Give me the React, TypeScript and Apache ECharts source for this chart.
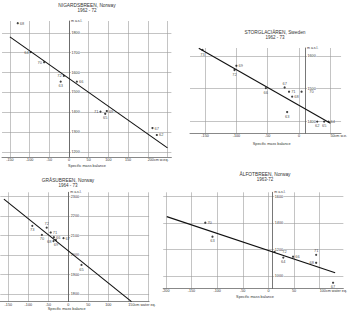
import React, { useEffect, useRef } from "react";
import * as echarts from "echarts";

// ---------- Nigardsbreen 1962-72 ----------
const nigYears = ["68", "64", "70", "72", "63", "66", "71", "65", "69", "67", "62"];
const nigBalance = [-130, -97, -63, -13, -21, 20, 80, 92, 96, 212, 223];
const nigEla = [1849, 1703, 1652, 1583, 1554, 1554, 1403, 1392, 1406, 1320, 1285];
const nigLabelPos = ["right", "left", "left", "left", "bottom", "right", "left", "bottom", "right", "right", "right"];
const nigLineX = [-150, 250];
const nigLineY = [1780, 1220];
const nigXTicks = [-150, -100, -50, 0, 50, 100, 150, 200, 250];
const nigXLabels = [-150, -100, -50, 0, 50, 100, 150, 200];
const nigYTicks = [1200, 1300, 1400, 1500, 1600, 1700, 1800];

// ---------- Storglaciären 1962-73 ----------
const stoYears = ["73", "69", "72", "66", "67", "71", "68", "70", "63", "62", "65", "64"];
const stoBalance = [-154, -100, -103, -53, -23, -16, -11, 4, -19, 29, 40, 47];
const stoEla = [1618, 1570, 1557, 1502, 1504, 1491, 1476, 1491, 1429, 1400, 1400, 1400];
const stoLabelPos = ["bottom", "right", "bottom", "bottom", "top", "right", "right", "right", "bottom", "bottom", "bottom", "right"];
const stoLineX = [-160, 50];
const stoLineY = [1623, 1395];
const stoXTicks = [-150, -100, -50, 0, 50];
const stoXLabels = [-150, -100, -50, 0, 50];
const stoYTicks = [1400, 1500, 1600];

// ---------- Gråsubreen 1964-73 ----------
const graYears = ["73", "72", "70", "71", "66", "69", "68", "67", "65"];
const graBalance = [-90, -54, -66, -44, -36, -31, -37, -12, 33];
const graEla = [2150, 2141, 2104, 2116, 2092, 2078, 2072, 2087, 1950];
const graLabelPos = ["bottom", "top", "bottom", "right", "right", "bottom", "left", "right", "bottom"];
const graLineX = [-161, 158];
const graLineY = [2287, 1762];
const graXTicks = [-150, -100, -50, 0, 50, 100, 150, 200];
const graXLabels = [-150, -100, -50, 0, 50, 100, 150];
const graYTicks = [1800, 1900, 2000, 2100, 2200, 2300];

// ---------- Ålfotbreen 1963-72 ----------
const alfYears = ["70", "63", "72", "64", "66", "71", "68", "67"];
const alfBalance = [-123, -109, 12, 29, 48, 93, 93, 126];
const alfEla = [1403, 1297, 1182, 1139, 1146, 1160, 1100, 949];
const alfLabelPos = ["right", "bottom", "right", "bottom", "right", "top", "left", "bottom"];
const alfLineX = [-198, 130];
const alfLineY = [1449, 1025];
const alfXTicks = [-200, -150, -100, -50, 0, 50, 100];
const alfXLabels = [-200, -150, -100, -50, 0, 50, 100];
const alfYTicks = [1000, 1200, 1400, 1600];

const FONT = "Liberation Sans";
const GRID_C = "#9c9c9c";
const AXIS_C = "#555";
const TXT_C = "#333";

// pixel placement of each panel (grid box) and where the zero-balance axis sits
const layout = [
  { left: 2, top: 21, width: 169.4, height: 136, xMin: -170, xMax: 260, yMin: 1174, yMax: 1860, zeroX: 69 },
  { left: 190, top: 48, width: 159.5, height: 85.1, xMin: -174, xMax: 67, yMin: 1365, yMax: 1624, zeroX: 305 },
  { left: 0.3, top: 192.3, width: 148.8, height: 109.3, xMin: -170, xMax: 202, yMin: 1762, yMax: 2322, zeroX: 68.3 },
  { left: 163.2, top: 192.3, width: 186.7, height: 96, xMin: -205, xMax: 146, yMin: 907, yMax: 1633, zeroX: 272.3 },
];

const panels = [
  { years: nigYears, bal: nigBalance, ela: nigEla, pos: nigLabelPos, lx: nigLineX, ly: nigLineY, xt: nigXTicks, xl: nigXLabels, yt: nigYTicks, unit: "cm w.eq." },
  { years: stoYears, bal: stoBalance, ela: stoEla, pos: stoLabelPos, lx: stoLineX, ly: stoLineY, xt: stoXTicks, xl: stoXLabels, yt: stoYTicks, unit: "cm w.e." },
  { years: graYears, bal: graBalance, ela: graEla, pos: graLabelPos, lx: graLineX, ly: graLineY, xt: graXTicks, xl: graXLabels, yt: graYTicks, unit: "cm water eq." },
  { years: alfYears, bal: alfBalance, ela: alfEla, pos: alfLabelPos, lx: alfLineX, ly: alfLineY, xt: alfXTicks, xl: alfXLabels, yt: alfYTicks, unit: "cm water eq." },
];

const titles = [
  { t: "NIGARDSBREEN, Norway", s: "1962 - 72", x: 87, y: 5 },
  { t: "STORGLACIÄREN, Sweden", s: "1962 - 73", x: 275, y: 32 },
  { t: "GRÅSUBREEN, Norway", s: "1964 - 73", x: 68, y: 180 },
  { t: "ÅLFOTBREEN, Norway", s: "1963-72", x: 265, y: 174 },
];

const axisNames = [
  { x: 87, y: 165.7 },
  { x: 271.7, y: 144 },
  { x: 66.7, y: 308.6 },
  { x: 255, y: 296.5 },
];

export default function App() {
  const ref = useRef<HTMLDivElement>(null);
  useEffect(() => {
    document.body.style.margin = "0";
    if (!ref.current) return;
    const chart = echarts.init(ref.current, undefined, { renderer: "svg" });

    const grid = layout.map((g) => ({ left: g.left, top: g.top, width: g.width, height: g.height, containLabel: false }));
    const xAxis = panels.map((p, i) => ({
      type: "value",
      gridIndex: i,
      min: layout[i].xMin,
      max: layout[i].xMax,
      axisLine: { onZero: false, lineStyle: { color: AXIS_C, width: 0.7 } },
      axisTick: { show: false, customValues: p.xt },
      axisLabel: {
        customValues: p.xl,
        fontSize: 3.7,
        fontFamily: FONT,
        color: TXT_C,
        margin: 1,
        alignMaxLabel: "left",
        formatter: (v: number) => (v === p.xl[p.xl.length - 1] ? v + p.unit : String(v)),
      },
      splitLine: { show: true, lineStyle: { color: GRID_C, width: 0.6 } },
    }));
    const yAxis = panels.map((p, i) => ({
      type: "value",
      gridIndex: i,
      min: layout[i].yMin,
      max: layout[i].yMax,
      position: "left",
      offset: -(layout[i].zeroX - layout[i].left),
      name: "m a.s.l.",
      nameLocation: "end",
      nameGap: 0,
      nameTextStyle: { fontSize: 3.5, fontFamily: FONT, color: TXT_C, align: "left", verticalAlign: "middle", padding: [0, 0, 0, 2] },
      axisLine: { show: true, onZero: false, lineStyle: { color: AXIS_C, width: 0.8 } },
      axisTick: { show: false, customValues: p.yt },
      axisLabel: {
        customValues: p.yt,
        inside: true,
        fontSize: 3.7,
        fontFamily: FONT,
        color: TXT_C,
        margin: 2,
        backgroundColor: "#fff",
        padding: [0, 0.5],
        formatter: (v: number) => String(v),
      },
      splitLine: { show: true, lineStyle: { color: GRID_C, width: 0.6 } },
    }));

    const series: any[] = [];
    panels.forEach((p, i) => {
      series.push({
        type: "line",
        xAxisIndex: i,
        yAxisIndex: i,
        data: p.lx.map((x, k) => [x, p.ly[k]]),
        symbol: "none",
        lineStyle: { color: "#111", width: 1.1 },
        z: 3,
      });
      series.push({
        type: "scatter",
        xAxisIndex: i,
        yAxisIndex: i,
        symbolSize: 2.2,
        itemStyle: { color: "#111" },
        z: 4,
        data: p.bal.map((b, k) => ({
          value: [b, p.ela[k]],
          label: {
            show: true,
            formatter: p.years[k],
            position: p.pos[k],
            // keep the label clear of the elevation tick labels right of the zero axis
            distance: b > 0 && b < 20 ? 6.5 : 1,
            fontSize: 4,
            fontFamily: FONT,
            color: "#222",
          },
        })),
      });
    });

    const graphic: any[] = [];
    titles.forEach((t) => {
      graphic.push({
        type: "text",
        x: t.x,
        y: t.y,
        style: { text: t.t, fontSize: 4.8, fontFamily: FONT, fill: "#333", align: "center", verticalAlign: "middle" },
      });
      graphic.push({
        type: "text",
        x: t.x,
        y: t.y + 5.5,
        style: { text: t.s, fontSize: 4.5, fontFamily: FONT, fill: "#333", align: "center", verticalAlign: "middle" },
      });
    });
    axisNames.forEach((a) => {
      graphic.push({
        type: "text",
        x: a.x,
        y: a.y,
        style: { text: "Specific mass balance", fontSize: 3.8, fontFamily: FONT, fill: "#333", align: "center", verticalAlign: "middle" },
      });
    });

    chart.setOption({
      animation: false,
      backgroundColor: "#fff",
      grid,
      xAxis,
      yAxis,
      series,
      graphic,
    });
    return () => chart.dispose();
  }, []);
  return <div ref={ref} style={{ width: 350, height: 312 }} />;
}
